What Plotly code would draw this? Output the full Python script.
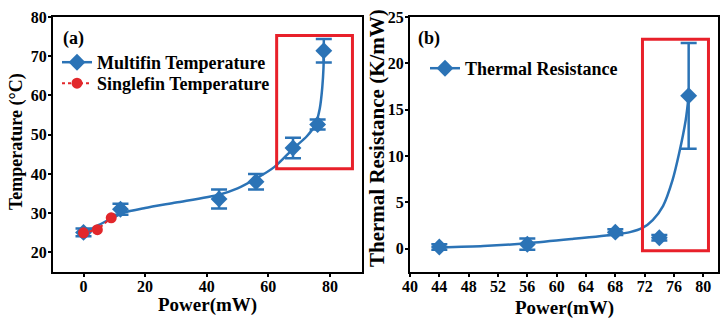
import plotly.graph_objects as go

# ---- (a) temperature vs power ----
multi_power = [0, 12, 44, 56, 68, 76, 78]
multi_temp = [25.1, 31.0, 33.6, 38.0, 46.6, 52.6, 71.4]
multi_err = [1.0, 1.4, 2.4, 2.0, 2.6, 1.3, 3.0]

single_power = [0, 4.5, 9]
single_temp = [25.0, 25.8, 28.8]

# fitted trend through the multifin data
fit_a_power = [0, 5, 10, 13, 20, 30, 44, 50, 56, 62, 68, 72.5, 75.2, 76.7, 77.5, 77.9, 78]
fit_a_temp = [25.0, 27.0, 29.0, 30.1, 31.3, 32.7, 34.7, 36.3, 38.8, 41.8, 46.4, 49.6,
              52.5, 56.7, 62.0, 67.0, 71.2]

# ---- (b) thermal resistance vs power ----
res_power = [44, 56, 68, 74, 78]
res_value = [0.2, 0.5, 1.8, 1.2, 16.5]
res_err = [0.3, 0.6, 0.3, 0.3, 5.7]

fit_b_power = [44, 50, 56, 62, 68, 70, 71.7, 73.1, 74.5, 75.8, 76.7, 77.6, 78]
fit_b_value = [0.15, 0.3, 0.6, 1.05, 1.55, 1.8, 2.25, 3.1, 4.6, 7.4, 10.3, 13.9, 16.5]

BLUE = "#2B73B6"
RED = "#E2272B"
BOX = "#E8202A"
FONT = "Liberation Serif"

fig = go.Figure()

# panel (a)
fig.add_trace(go.Scatter(x=fit_a_power, y=fit_a_temp, mode="lines",
                         line=dict(color=BLUE, width=2.5, shape="spline", smoothing=0.7),
                         showlegend=False, xaxis="x", yaxis="y"))
fig.add_trace(go.Scatter(x=multi_power, y=multi_temp, mode="markers",
                         marker=dict(symbol="diamond", size=13, color=BLUE),
                         error_y=dict(type="data", array=multi_err, color=BLUE,
                                      thickness=2.5, width=8),
                         showlegend=False, xaxis="x", yaxis="y"))
fig.add_trace(go.Scatter(x=single_power, y=single_temp, mode="lines+markers",
                         line=dict(color=RED, width=2, dash="dot"),
                         marker=dict(symbol="circle", size=11, color=RED),
                         showlegend=False, xaxis="x", yaxis="y"))
# legend entries for (a)
fig.add_trace(go.Scatter(x=[None], y=[None], mode="lines+markers", name="Multifin Temperature",
                         line=dict(color=BLUE, width=2.5),
                         marker=dict(symbol="diamond", size=13, color=BLUE),
                         legend="legend", xaxis="x", yaxis="y"))
fig.add_trace(go.Scatter(x=[None], y=[None], mode="lines+markers", name="Singlefin Temperature",
                         line=dict(color=RED, width=2, dash="dot"),
                         marker=dict(symbol="circle", size=11, color=RED),
                         legend="legend3", xaxis="x", yaxis="y"))

# panel (b)
fig.add_trace(go.Scatter(x=fit_b_power, y=fit_b_value, mode="lines",
                         line=dict(color=BLUE, width=2.5, shape="spline", smoothing=0.7),
                         showlegend=False, xaxis="x2", yaxis="y2"))
fig.add_trace(go.Scatter(x=res_power, y=res_value, mode="markers",
                         marker=dict(symbol="diamond", size=13, color=BLUE),
                         error_y=dict(type="data", array=res_err, color=BLUE,
                                      thickness=2.5, width=8),
                         showlegend=False, xaxis="x2", yaxis="y2"))
fig.add_trace(go.Scatter(x=[None], y=[None], mode="lines+markers", name="Thermal Resistance",
                         line=dict(color=BLUE, width=2.5),
                         marker=dict(symbol="diamond", size=13, color=BLUE),
                         legend="legend2", xaxis="x2", yaxis="y2"))

tick_font = dict(family=FONT, size=16, color="black", weight="bold")
axis_common = dict(showgrid=False, zeroline=False, showline=True, mirror=True,
                   linecolor="black", linewidth=2, ticks="outside", ticklen=3,
                   tickwidth=1.5, tickcolor="black", automargin=False,
                   tickfont=tick_font)

H, W = 326, 728
y_dom = [1 - 272 / H, 1 - 17 / H]

legend_font = dict(family=FONT, size=18, color="black", weight="bold")


def legend_box(px, py):
    return dict(x=px / W, y=1 - py / H, xanchor="left", yanchor="top",
                bgcolor="rgba(0,0,0,0)", itemwidth=30, font=legend_font)


fig.update_layout(
    width=W, height=H, margin=dict(l=0, r=0, t=0, b=0, autoexpand=False),
    paper_bgcolor="white", plot_bgcolor="white",
    xaxis=dict(domain=[53 / W, 362 / W], range=[-9.9, 90.4], tickvals=[0, 20, 40, 60, 80],
               anchor="y", ticklabelstandoff=-4, **axis_common),
    yaxis=dict(domain=y_dom, range=[15, 80], tickvals=[20, 30, 40, 50, 60, 70, 80],
               anchor="x", ticklabelstandoff=-2, **axis_common),
    xaxis2=dict(domain=[410 / W, 718 / W], range=[40, 82],
                tickvals=[40, 44, 48, 52, 56, 60, 64, 68, 72, 76, 80],
                anchor="y2", ticklabelstandoff=-4, **axis_common),
    yaxis2=dict(domain=y_dom, range=[-2.5, 25], tickvals=[0, 5, 10, 15, 20, 25],
                anchor="x2", ticklabelstandoff=-2, **axis_common),
    legend=legend_box(57, 44),
    legend3=legend_box(57, 65),
    legend2=legend_box(425, 50),
    shapes=[
        dict(type="rect", xref="x", yref="y", x0=62.7, x1=87.3, y0=41.3, y1=75.3,
             line=dict(color=BOX, width=3)),
        dict(type="rect", xref="x2", yref="y2", x0=71.7, x1=80.7, y0=-0.2, y1=22.6,
             line=dict(color=BOX, width=3)),
    ],
)

title_font = dict(family=FONT, size=19, color="black", weight="bold")


def label(text, px, py, angle=0, font=title_font, xanchor="center"):
    fig.add_annotation(text=text, x=px / W, y=1 - py / H, xref="paper", yref="paper",
                       xanchor=xanchor, yanchor="middle", showarrow=False,
                       textangle=angle, font=font)


label("Power(mW)", 207, 305)
label("Power(mW)", 564, 308)
label("Temperature (°C)", 17, 142, angle=-90,
      font=dict(family=FONT, size=18, color="black", weight="bold"))
label("Thermal Resistance (K/mW)", 377, 138, angle=-90,
      font=dict(family=FONT, size=21, color="black", weight="bold"))
label("(a)", 61, 39, font=legend_font, xanchor="left")
label("(b)", 416, 39, font=legend_font, xanchor="left")

fig.write_html("out.html")
